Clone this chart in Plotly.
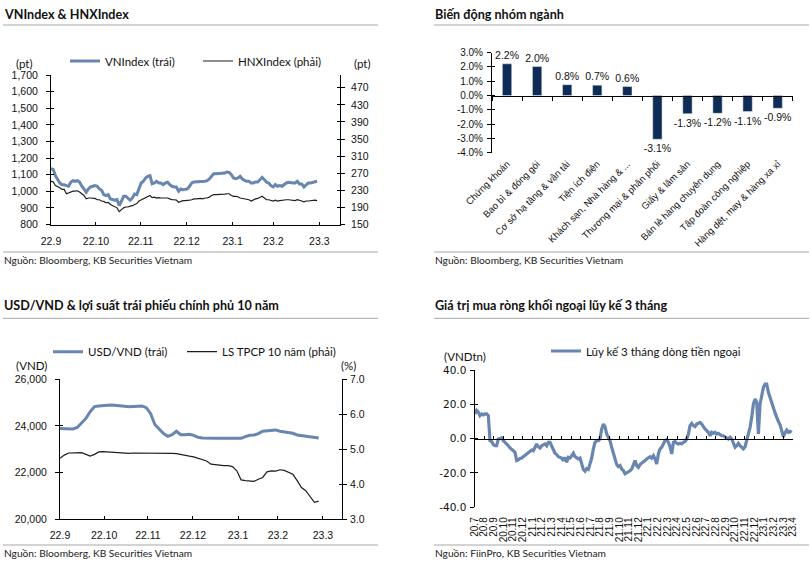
import plotly.graph_objects as go
import numpy as np

W, H = 812, 562


def X(px):
    return px / W


def Y(py):
    return 1 - py / H


# ---------------- data ----------------
# Panel 1: VNIndex (left) & HNXIndex (right), one value per trading day
vn_index = [1136, 1132, 1094, 1074, 1050, 1040, 1040, 1034, 1030, 1054,
            1064, 1060, 1064, 1056, 1030, 1014, 994, 1014, 1026, 1030,
            1034, 1030, 1014, 1006, 980, 974, 980, 954, 950, 946,
            950, 914, 940, 970, 970, 960, 946, 960, 984, 980,
            1010, 1050, 1060, 1080, 1090, 1094, 1045, 1050, 1060, 1050,
            1050, 1040, 1050, 1054, 1040, 1030, 1026, 1026, 1000, 1014,
            1010, 1014, 1014, 1030, 1050, 1056, 1056, 1056, 1058, 1058,
            1060, 1064, 1074, 1090, 1106, 1106, 1106, 1106, 1110, 1110,
            1116, 1114, 1100, 1080, 1076, 1080, 1090, 1074, 1066, 1060,
            1060, 1050, 1050, 1056, 1056, 1070, 1084, 1070, 1054, 1050,
            1034, 1026, 1040, 1030, 1034, 1030, 1040, 1050, 1054, 1050,
            1050, 1050, 1060, 1044, 1044, 1026, 1040, 1050, 1050, 1054,
            1054, 1060]
hnx_index = [251, 250, 241, 239, 236, 232, 232, 222, 224, 226,
             228, 228, 229, 226, 222, 218, 210, 212, 212, 212,
             211, 208, 208, 205, 204, 201, 202, 197, 194, 191,
             189, 180, 185, 189, 191, 191, 193, 194, 197, 199,
             205, 208, 210, 212, 216, 218, 213, 214, 212, 213,
             212, 212, 212, 212, 210, 208, 208, 207, 202, 205,
             206, 206, 206, 207, 208, 210, 210, 211, 211, 210,
             212, 212, 214, 218, 220, 220, 220, 220, 221, 221,
             222, 222, 218, 216, 216, 215, 212, 211, 211, 210,
             208, 205, 208, 210, 211, 214, 216, 212, 208, 208,
             206, 205, 207, 205, 206, 207, 207, 208, 208, 207,
             207, 206, 208, 207, 205, 203, 205, 205, 206, 206,
             207, 206]
month_labels = ["22.9", "22.10", "22.11", "22.12", "23.1", "23.2", "23.3"]
month_day_index = [0, 20.45, 40.76, 61.67, 82.58, 101.06, 121.97]
vn_ticks = [800, 900, 1000, 1100, 1200, 1300, 1400, 1500, 1600, 1700]
hnx_ticks = [150, 190, 230, 270, 310, 350, 390, 430, 470]

# Panel 2: sector performance (%)
sector_names = ["Chứng khoán", "Bao bì & đóng gói", "Cơ sở hạ tầng & vận tải",
                "Tiện ích điện", "Khách sạn, Nhà hàng & ...",
                "Thương mại & phân phối", "Giấy & lâm sản",
                "Bán lẻ hàng chuyên dụng", "Tập đoàn công nghiệp",
                "Hàng dệt, may & hàng xa xỉ"]
sector_change = [2.22, 2.03, 0.76, 0.73, 0.63, -3.06, -1.27, -1.24, -1.12, -0.89]
sector_ticks = [-4, -3, -2, -1, 0, 1, 2, 3]
sector_tick_labels = ["-4.0%", "-3.0%", "-2.0%", "-1.0%", "0.0%", "1.0%", "2.0%", "3.0%"]

# Panel 3: USD/VND (left) & 10y gov bond yield (right), every 2nd trading day
usd_vnd = [23884, 23870, 23870, 23870, 23928, 24130, 24319, 24609, 24826, 24855,
           24855, 24884, 24898, 24870, 24855, 24840, 24826, 24840, 24855, 24855,
           24782, 24536, 24058, 23884, 23667, 23551, 23623, 23768, 23623, 23623,
           23638, 23594, 23507, 23478, 23464, 23464, 23464, 23464, 23464, 23464,
           23464, 23464, 23464, 23536, 23594, 23609, 23667, 23768, 23797, 23826,
           23826, 23768, 23739, 23739, 23681, 23609, 23580, 23565, 23551, 23522,
           23478]
bond_10y = [4.74, 4.83, 4.89, 4.90, 4.90, 4.90, 4.85, 4.80, 4.85, 4.92,
            4.93, 4.92, 4.92, 4.90, 4.90, 4.89, 4.88, 4.89, 4.89, 4.90,
            4.90, 4.90, 4.90, 4.90, 4.89, 4.89, 4.88, 4.87, 4.84, 4.82,
            4.80, 4.78, 4.74, 4.70, 4.66, 4.57, 4.55, 4.54, 4.53, 4.53,
            4.50, 4.38, 4.12, 4.10, 4.10, 4.08, 4.14, 4.19, 4.35, 4.38,
            4.37, 4.41, 4.39, 4.33, 4.28, 4.10, 3.90, 3.81, 3.65, 3.48,
            3.51]
usd_ticks = [20000, 22000, 24000, 26000]
usd_tick_labels = ["20,000", "22,000", "24,000", "26,000"]
bond_ticks = [3, 4, 5, 6, 7]
bond_tick_labels = ["3.0", "4.0", "5.0", "6.0", "7.0"]

# Panel 4: 3-month cumulative foreign net buying (VND trillion)
foreign_flow = [14.4, 16.5, 15.5, 13.4, 14.4, 13.8, 14.4, 14.4, 13.4, -1.2,
                -1.6, -3.5, -4.1, -4.1, -0.2, 0.2, 0.4, -1.2, -2.1, -2.7,
                -4.1, -5.4, -6.0, -7.0, -8.0, -12.8, -12.4, -11.5, -11.3, -10.5,
                -9.9, -8.9, -8.0, -7.0, -6.6, -7.0, -4.7, -3.1, -4.7, -5.4,
                -4.1, -3.5, -3.1, -4.1, -2.1, -2.1, -4.1, -7.0, -8.5, -9.3,
                -10.5, -10.9, -11.3, -12.8, -10.9, -13.8, -10.9, -11.3, -9.9, -8.5,
                -10.5, -10.9, -11.8, -11.3, -14.8, -18.0, -19.0, -17.5, -18.0, -14.8,
                -11.3, -6.0, -2.1, -1.2, -1.2, -0.2, 5.6, 8.5, 7.0, 2.7,
                0.8, -1.2, -5.0, -8.9, -12.8, -15.1, -16.3, -15.7, -17.7, -18.6,
                -20.5, -20.0, -19.5, -18.7, -17.7, -15.7, -12.8, -15.7, -16.7, -15.1,
                -14.4, -13.8, -12.8, -11.8, -11.3, -10.5, -11.3, -9.9, -11.8, -14.8,
                -8.9, -6.0, -5.0, -3.5, -1.2, -0.6, -2.1, -4.7, -8.9, -2.1,
                -1.6, -2.7, -3.1, -2.7, -3.1, -2.1, -1.6, -0.2, 2.7, 7.6,
                8.9, 7.6, 7.0, 8.5, 8.9, 9.5, 8.5, 6.6, 5.6, 4.7,
                3.7, 1.7, 3.7, 3.1, 3.7, 2.7, 3.1, 2.3, 1.7, 1.7,
                0.8, 0.4, -0.2, 0.8, -0.2, -2.1, -5.0, -4.1, -2.7, -4.1,
                -5.4, -6.0, -4.7, -1.2, 3.7, 6.6, 12.4, 20.2, 23.1, 21.2,
                2.7, 20.2, 25.0, 29.9, 31.8, 31.8, 27.0, 23.5, 21.5, 18.0,
                15.0, 12.0, 10.0, 8.0, 4.5, 1.0, 3.5, 5.0, 3.7, 4.3,
                3.7]
flow_month_labels = ["20.7", "20.8", "20.9", "20.10", "20.11", "20.12",
                     "21.1", "21.2", "21.3", "21.4", "21.5", "21.6",
                     "21.7", "21.8", "21.9", "21.10", "21.11", "21.12",
                     "22.1", "22.2", "22.3", "22.4", "22.5", "22.6",
                     "22.7", "22.8", "22.9", "22.10", "22.11", "22.12",
                     "23.1", "23.2", "23.3", "23.4"]
flow_ticks = [-40, -20, 0, 20, 40]
flow_tick_labels = ["-40.0", "-20.0", "0.0", "20.0", "40.0"]

# ---------------- style ----------------
BLUE = "#6886B0"
DARK = "#1E1E1E"
NAVY = "#0E2C55"
TXT = "Lato"
TICK = "Liberation Sans"
TITLE_FONT = dict(family=TXT, size=12.6, color="#111111", weight="bold")
SRC_FONT = dict(family=TXT, size=10.2, color="#222222")
LEG_FONT = dict(family=TXT, size=11.5, color="#111111")


def tfont(size=10.5, family=TICK):
    return dict(family=family, size=size, color="#111111")


def ax(**kw):
    base = dict(showgrid=False, zeroline=False, showline=True, linecolor="black",
                linewidth=1, ticks="outside", ticklen=4, tickcolor="black",
                tickwidth=1, fixedrange=True, tickfont=tfont(), automargin=False)
    base.update(kw)
    return base


def twin(over, side, anchor, rng, tickvals):
    """Overlay axis that draws the inner half of Excel-style cross tick marks."""
    return ax(overlaying=over, side=side, anchor=anchor, range=rng, tickmode="array",
              tickvals=tickvals, ticks="inside", ticklen=3, showticklabels=False,
              showline=False)


def leg(px, py):
    return dict(orientation="h", x=X(px), xanchor="left", y=Y(py), yanchor="middle",
                font=LEG_FONT, bgcolor="rgba(0,0,0,0)", borderwidth=0)


def empty(xa, ya):
    return go.Scatter(x=[], y=[], xaxis=xa, yaxis=ya, showlegend=False, hoverinfo="skip")


fig = go.Figure()

# Panel 1
fig.add_trace(go.Scatter(x=np.arange(len(vn_index)), y=vn_index, name="VNIndex (trái)",
                         mode="lines", line=dict(color=BLUE, width=3),
                         xaxis="x", yaxis="y", legend="legend"))
fig.add_trace(go.Scatter(x=np.arange(len(hnx_index)), y=hnx_index, name="HNXIndex (phải)",
                         mode="lines", line=dict(color=DARK, width=1.2),
                         xaxis="x", yaxis="y2", legend="legend2"))

# Panel 2
fig.add_trace(go.Bar(x=sector_names, y=sector_change, marker_color=NAVY, width=0.31,
                     text=[f"{v:.1f}%" for v in sector_change], textposition="outside",
                     textfont=tfont(10.5), constraintext="none", cliponaxis=False,
                     xaxis="x2", yaxis="y3", showlegend=False))

# Panel 3
fig.add_trace(go.Scatter(x=np.arange(len(usd_vnd)) * 2, y=usd_vnd, name="USD/VND (trái)",
                         mode="lines", line=dict(color=BLUE, width=3),
                         xaxis="x3", yaxis="y4", legend="legend3"))
fig.add_trace(go.Scatter(x=np.arange(len(bond_10y)) * 2, y=bond_10y, name="LS TPCP 10 năm (phải)",
                         mode="lines", line=dict(color=DARK, width=1.2),
                         xaxis="x3", yaxis="y5", legend="legend4"))

# Panel 4
fig.add_trace(go.Scatter(x=np.linspace(0.05, 32.87, len(foreign_flow)), y=foreign_flow,
                         name="Lũy kế 3 tháng dòng tiền ngoại", mode="lines",
                         line=dict(color=BLUE, width=3.2),
                         xaxis="x4", yaxis="y6", legend="legend5"))

# helper traces that make the overlay axes render
for xa, ya in [("x5", "y3"), ("x6", "y6"), ("x", "y7"), ("x", "y8"), ("x2", "y9"),
               ("x3", "y10"), ("x3", "y11"), ("x4", "y12")]:
    fig.add_trace(empty(xa, ya))

# zero-line positions (paper coords) derived from axis ranges
d3 = [Y(152.7), Y(52.7)]
zero2 = d3[0] + (0 - (-4)) / (3 - (-4)) * (d3[1] - d3[0])
d6 = [Y(507.3), Y(370)]
zero4 = d6[0] + (0 - (-40)) / (40 - (-40)) * (d6[1] - d6[0])

layout = dict(
    width=W, height=H, autosize=False,
    margin=dict(l=0, r=0, t=0, b=0, autoexpand=False),
    paper_bgcolor="white", plot_bgcolor="rgba(0,0,0,0)",
    # panel 1
    xaxis=ax(domain=[X(51), X(340)], range=[0, 131.4], anchor="y",
             tickmode="array", tickvals=month_day_index, ticktext=month_labels,
             ticks="inside", ticklen=3, ticklabelstandoff=7),
    yaxis=ax(domain=[Y(224.5), Y(75)], range=[800, 1700], anchor="x",
             tickmode="array", tickvals=vn_ticks, tickformat=",", ticklabelstandoff=6),
    yaxis2=ax(overlaying="y", side="right", anchor="x", range=[150, 500],
              tickmode="array", tickvals=hnx_ticks, ticklabelstandoff=4),
    yaxis7=twin("y", "left", "x", [800, 1700], vn_ticks),
    yaxis8=twin("y", "right", "x", [150, 500], hnx_ticks),
    # panel 2
    xaxis2=ax(domain=[X(492), X(792.7)], anchor="y3", type="category",
              range=[-0.5, 9.5], showline=False, ticks="", tickangle=-45,
              tickfont=tfont(9.5), ticklabelstandoff=3),
    yaxis3=ax(domain=d3, range=[-4, 3], anchor="x2", tickmode="array",
              tickvals=sector_ticks, ticktext=sector_tick_labels,
              tickfont=tfont(10), ticklabelstandoff=2),
    yaxis9=twin("y3", "left", "x2", [-4, 3], sector_ticks),
    xaxis5=ax(overlaying="x2", anchor="free", position=zero2, range=[-0.5, 9.5],
              tick0=-0.5, dtick=1, showticklabels=False, ticks="outside", ticklen=4),
    # panel 3
    xaxis3=ax(domain=[X(60), X(342)], anchor="y4", range=[0, 130.8],
              tickmode="array", tickvals=month_day_index, ticktext=month_labels,
              ticks="inside", ticklen=3, tickfont=tfont(10.5), ticklabelstandoff=6),
    yaxis4=ax(domain=[Y(519), Y(379.3)], range=[20000, 26000], anchor="x3",
              tickmode="array", tickvals=usd_ticks, ticktext=usd_tick_labels,
              tickfont=tfont(10.5), ticklabelstandoff=6),
    yaxis5=ax(overlaying="y4", side="right", anchor="x3", range=[3, 7],
              tickmode="array", tickvals=bond_ticks, ticktext=bond_tick_labels,
              tickfont=tfont(10.5), ticklabelstandoff=1),
    yaxis10=twin("y4", "left", "x3", [20000, 26000], usd_ticks),
    yaxis11=twin("y4", "right", "x3", [3, 7], bond_ticks),
    # panel 4
    xaxis4=ax(domain=[X(474.5), X(793)], anchor="y6", range=[0, 33],
              tickmode="array", tickvals=list(range(len(flow_month_labels))),
              ticktext=flow_month_labels, tickangle=-90, showline=False, ticks="",
              tickfont=tfont(10), ticklabelstandoff=7),
    yaxis6=ax(domain=d6, range=[-40, 40], anchor="x4", tickmode="array",
              tickvals=flow_ticks, ticktext=flow_tick_labels,
              tickfont=tfont(10.5, "DejaVu Sans"), ticklabelstandoff=1),
    yaxis12=twin("y6", "left", "x4", [-40, 40], flow_ticks),
    xaxis6=ax(overlaying="x4", anchor="free", position=zero4, range=[0, 33],
              tick0=0, dtick=1, showticklabels=False, ticks="inside", ticklen=3),
    legend=leg(65, 61),
    legend2=leg(198, 61),
    legend3=leg(48, 351.7),
    legend4=leg(182, 351.7),
    legend5=leg(546, 351),
    showlegend=True,
)
fig.update_layout(**layout)

# titles, units, sources
texts = [
    (3, 14.5, "VNIndex & HNXIndex", TITLE_FONT, "left"),
    (434, 14.5, "Biến động nhóm ngành", TITLE_FONT, "left"),
    (3, 305.8, "USD/VND & lợi suất trái phiếu chính phủ 10 năm", TITLE_FONT, "left"),
    (434, 305.8, "Giá trị mua ròng khối ngoại lũy kế 3 tháng", TITLE_FONT, "left"),
    (3, 260, "Nguồn: Bloomberg, KB Securities Vietnam", SRC_FONT, "left"),
    (434, 260, "Nguồn: Bloomberg, KB Securities Vietnam", SRC_FONT, "left"),
    (3, 552.5, "Nguồn: Bloomberg, KB Securities Vietnam", SRC_FONT, "left"),
    (434, 552.5, "Nguồn: FiinPro, KB Securities Vietnam", SRC_FONT, "left"),
    (24.5, 63, "(pt)", LEG_FONT, "center"),
    (362, 63, "(pt)", LEG_FONT, "center"),
    (31, 365, "(VND)", LEG_FONT, "center"),
    (348, 365, "(%)", LEG_FONT, "center"),
    (464.5, 356, "(VNDtn)", LEG_FONT, "center"),
]
for px, py, t, f, anc in texts:
    fig.add_annotation(x=X(px), y=Y(py), xref="paper", yref="paper", text=t,
                       showarrow=False, xanchor=anc, yanchor="middle", font=f,
                       borderpad=0)

# separator lines
GRAY = "#A6A6A6"
for x0, x1, py in [(3, 378, 25), (434, 809, 25), (3, 378, 252), (434, 809, 252),
                   (3, 378, 318.3), (434, 809, 318.3), (3, 378, 545), (434, 809, 545)]:
    fig.add_shape(type="line", xref="paper", yref="paper", x0=X(x0), x1=X(x1),
                  y0=Y(py), y1=Y(py), line=dict(color=GRAY, width=1))

fig.write_html("out.html")
